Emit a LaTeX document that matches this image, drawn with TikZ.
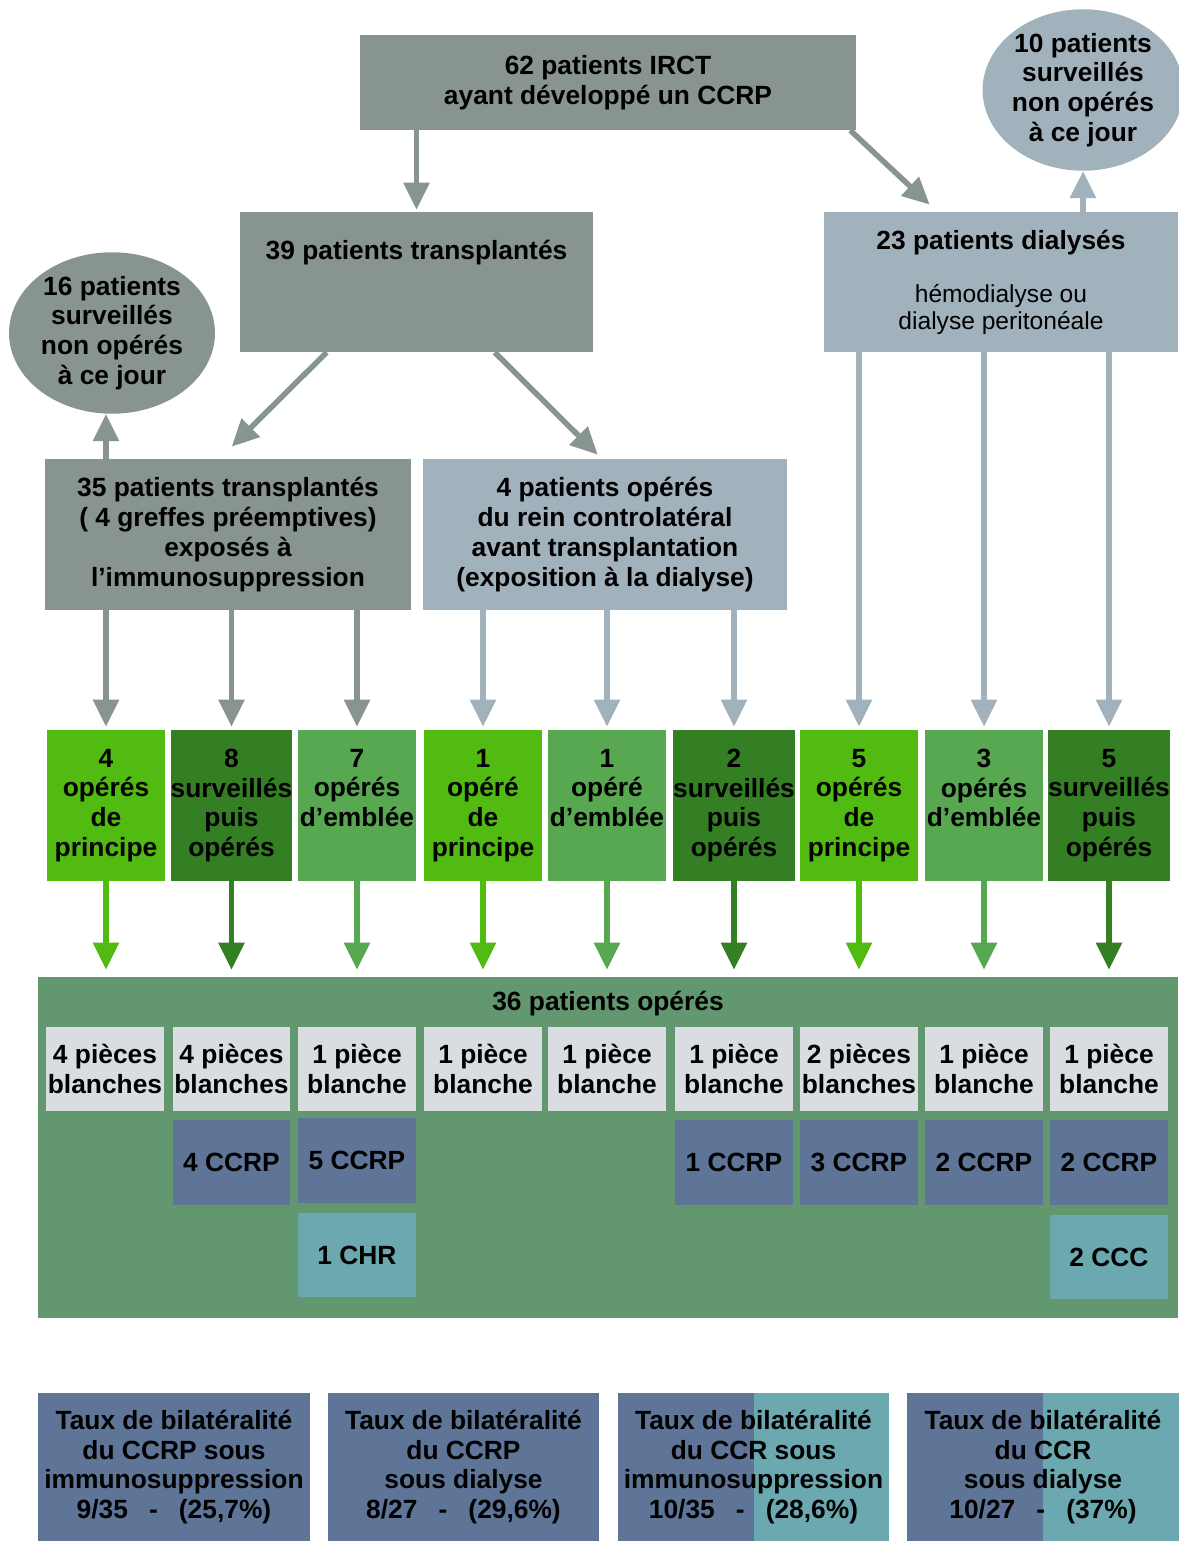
\documentclass[tikz,border=0pt]{standalone}
\usepackage{fontspec}
\setmainfont{Liberation Sans}
\usetikzlibrary{arrows.meta,calc,shapes.geometric}
\definecolor{cgray}{RGB}{136,148,143}
\definecolor{clight}{RGB}{162,178,188}
\definecolor{gbright}{RGB}{82,187,17}
\definecolor{gdark}{RGB}{52,126,35}
\definecolor{gmed}{RGB}{87,168,80}
\definecolor{gpanel}{RGB}{98,151,112}
\definecolor{cwhite}{RGB}{217,220,224}
\definecolor{cblue}{RGB}{94,117,152}
\definecolor{cteal}{RGB}{107,168,176}
\tikzset{
  box/.style={rectangle, inner sep=0pt, align=center, text=black},
  graybox/.style={box, fill=cgray},
  lightbox/.style={box, fill=clight},
  oval/.style={ellipse, inner sep=0pt, align=center, minimum height=3.2cm},
  greenbox/.style={box, minimum width=2.36cm, minimum height=3.02cm},
  whitebox/.style={box, fill=cwhite, minimum width=2.36cm, minimum height=1.68cm},
  bluebox/.style={box, fill=cblue, minimum width=2.36cm, minimum height=1.70cm},
  tealbox/.style={box, fill=cteal, minimum width=2.36cm, minimum height=1.68cm},
  ratebox/.style={box, fill=cblue, minimum width=5.44cm, minimum height=2.96cm},
  splitbox/.style={ratebox, path picture={\fill[cteal] (path picture bounding box.north) rectangle (path picture bounding box.south east);}},
  arr/.style={-{Triangle[width=0.5cm,length=0.54cm]}, line width=0.11cm},
  thin/.style={font=\fontsize{14}{15}\selectfont\mdseries}
}
\begin{document}
\begin{tikzpicture}[x=0.02cm, y=-0.02cm, font=\fontsize{15}{17}\selectfont\bfseries]
\useasboundingbox (0,0) rectangle (1179,1541);

% top level
\node[graybox, minimum width=9.92cm, minimum height=1.9cm] (b62) at (608,82.5) {62 patients IRCT\\ayant développé un CCRP};
\node[oval, fill=clight, minimum width=3.8cm] (c10) at (1083,90) {10 patients\\surveillés\\non opérés\\à ce jour};
\node[graybox, minimum width=7.06cm, minimum height=2.8cm,
      label={[anchor=center, yshift=-0.82cm]north:39 patients transplantés}] (b39) at (416.5,282) {};
\node[lightbox, minimum width=7.08cm, minimum height=2.8cm,
      label={[anchor=center, yshift=-0.62cm]north:23 patients dialysés},
      label={[anchor=center, yshift=-1.96cm, thin, align=center]north:hémodialyse ou\\dialyse peritonéale}] (b23) at (1001,282) {};
\node[oval, fill=cgray, minimum width=4.12cm] (c16) at (112,333) {16 patients\\surveillés\\non opérés\\à ce jour};

% second level
\node[graybox, minimum width=7.32cm, minimum height=3.02cm] (b35) at (228,534.5) {35 patients transplantés\\( 4 greffes préemptives)\\exposés à\\l’immunosuppression};
\node[lightbox, minimum width=7.28cm, minimum height=3.02cm] (b4) at (605,534.5) {4 patients opérés\\du rein controlatéral\\avant transplantation\\(exposition à la dialyse)};

% green row
\node[greenbox, fill=gbright] (g1) at (106,805.5) {4\\opérés\\de\\principe};
\node[greenbox, fill=gdark] (g2) at (231.5,805.5) {8\\surveillés\\puis\\opérés};
\node[greenbox, fill=gmed] (g3) at (357,805.5) {7\\opérés\\d’emblée\\\vphantom{p}};
\node[greenbox, fill=gbright] (g4) at (483,805.5) {1\\opéré\\de\\principe};
\node[greenbox, fill=gmed] (g5) at (607,805.5) {1\\opéré\\d’emblée\\\vphantom{p}};
\node[greenbox, fill=gdark] (g6) at (734,805.5) {2\\surveillés\\puis\\opérés};
\node[greenbox, fill=gbright] (g7) at (859,805.5) {5\\opérés\\de\\principe};
\node[greenbox, fill=gmed] (g8) at (984,805.5) {3\\opérés\\d’emblée\\\vphantom{p}};
\node[greenbox, fill=gdark] (g9) at (1109,805.5) {5\\surveillés\\puis\\opérés};

% panel
\node[box, fill=gpanel, minimum width=22.8cm, minimum height=6.82cm,
      label={[anchor=center, yshift=-0.54cm]north:36 patients opérés}] (panel) at (608,1147.5) {};

\node[whitebox] (w1) at (105,1069) {4 pièces\\blanches};
\node[whitebox] (w2) at (231.5,1069) {4 pièces\\blanches};
\node[whitebox] (w3) at (357,1069) {1 pièce\\blanche};
\node[whitebox] (w4) at (483,1069) {1 pièce\\blanche};
\node[whitebox] (w5) at (607,1069) {1 pièce\\blanche};
\node[whitebox] (w6) at (734,1069) {1 pièce\\blanche};
\node[whitebox] (w7) at (859,1069) {2 pièces\\blanches};
\node[whitebox] (w8) at (984,1069) {1 pièce\\blanche};
\node[whitebox] (w9) at (1109,1069) {1 pièce\\blanche};

\node[bluebox] (p2) at (231.5,1162.5) {4 CCRP};
\node[bluebox] (p3) at (357,1160.5) {5 CCRP};
\node[bluebox] (p6) at (734,1162.5) {1 CCRP};
\node[bluebox] (p7) at (859,1162.5) {3 CCRP};
\node[bluebox] (p8) at (984,1162.5) {2 CCRP};
\node[bluebox] (p9) at (1109,1162.5) {2 CCRP};

\node[tealbox] (t3) at (357,1255) {1 CHR};
\node[tealbox] (t9) at (1109,1257) {2 CCC};

% rate boxes
\node[ratebox] (r1) at (174,1467) {Taux de bilatéralité\\du CCRP sous\\immunosuppression\\9/35\hspace{12pt}-\hspace{12pt}(25,7\%)};
\node[ratebox] (r2) at (463.5,1467) {Taux de bilatéralité\\du CCRP\\sous dialyse\\8/27\hspace{12pt}-\hspace{12pt}(29,6\%)};
\node[splitbox] (r3) at (753.5,1467) {Taux de bilatéralité\\du CCR sous\\immunosuppression\\10/35\hspace{12pt}-\hspace{12pt}(28,6\%)};
\node[splitbox] (r4) at (1043,1467) {Taux de bilatéralité\\du CCR\\sous dialyse\\10/27\hspace{12pt}-\hspace{12pt}(37\%)};

% connectors
\draw[arr, cgray, shorten >=0.04cm] (b62.south -| b39.north) -- (b39.north);
\draw[arr, cgray] ($(b62.south east)+(-6,0)$) -- ($(b23.north west)+(106,-7)$);
\draw[arr, clight] (c10.south |- b23.north) -- (c10.south);
\draw[arr, cgray] ($(b39.south west)+(87,0)$) -- ($(b35.north west)+(187,-12)$);
\draw[arr, cgray] ($(b39.south west)+(255,0)$) -- ($(b4.north west)+(175,-4)$);
\draw[arr, cgray] (g1.north |- b35.north) -- (g1.north |- c16.south);

\foreach \g in {g1,g2,g3} \draw[arr, cgray, shorten >=0.06cm] (\g.north |- b35.south) -- (\g.north);
\foreach \g in {g4,g5,g6} \draw[arr, clight, shorten >=0.06cm] (\g.north |- b4.south) -- (\g.north);
\foreach \g in {g7,g8,g9} \draw[arr, clight, shorten >=0.06cm] (\g.north |- b23.south) -- (\g.north);

\foreach \g/\c in {g1/gbright,g2/gdark,g3/gmed,g4/gbright,g5/gmed,g6/gdark,g7/gbright,g8/gmed,g9/gdark}
  \draw[arr, \c, shorten >=0.14cm] (\g.south) -- (\g.south |- panel.north);
\end{tikzpicture}
\end{document}
